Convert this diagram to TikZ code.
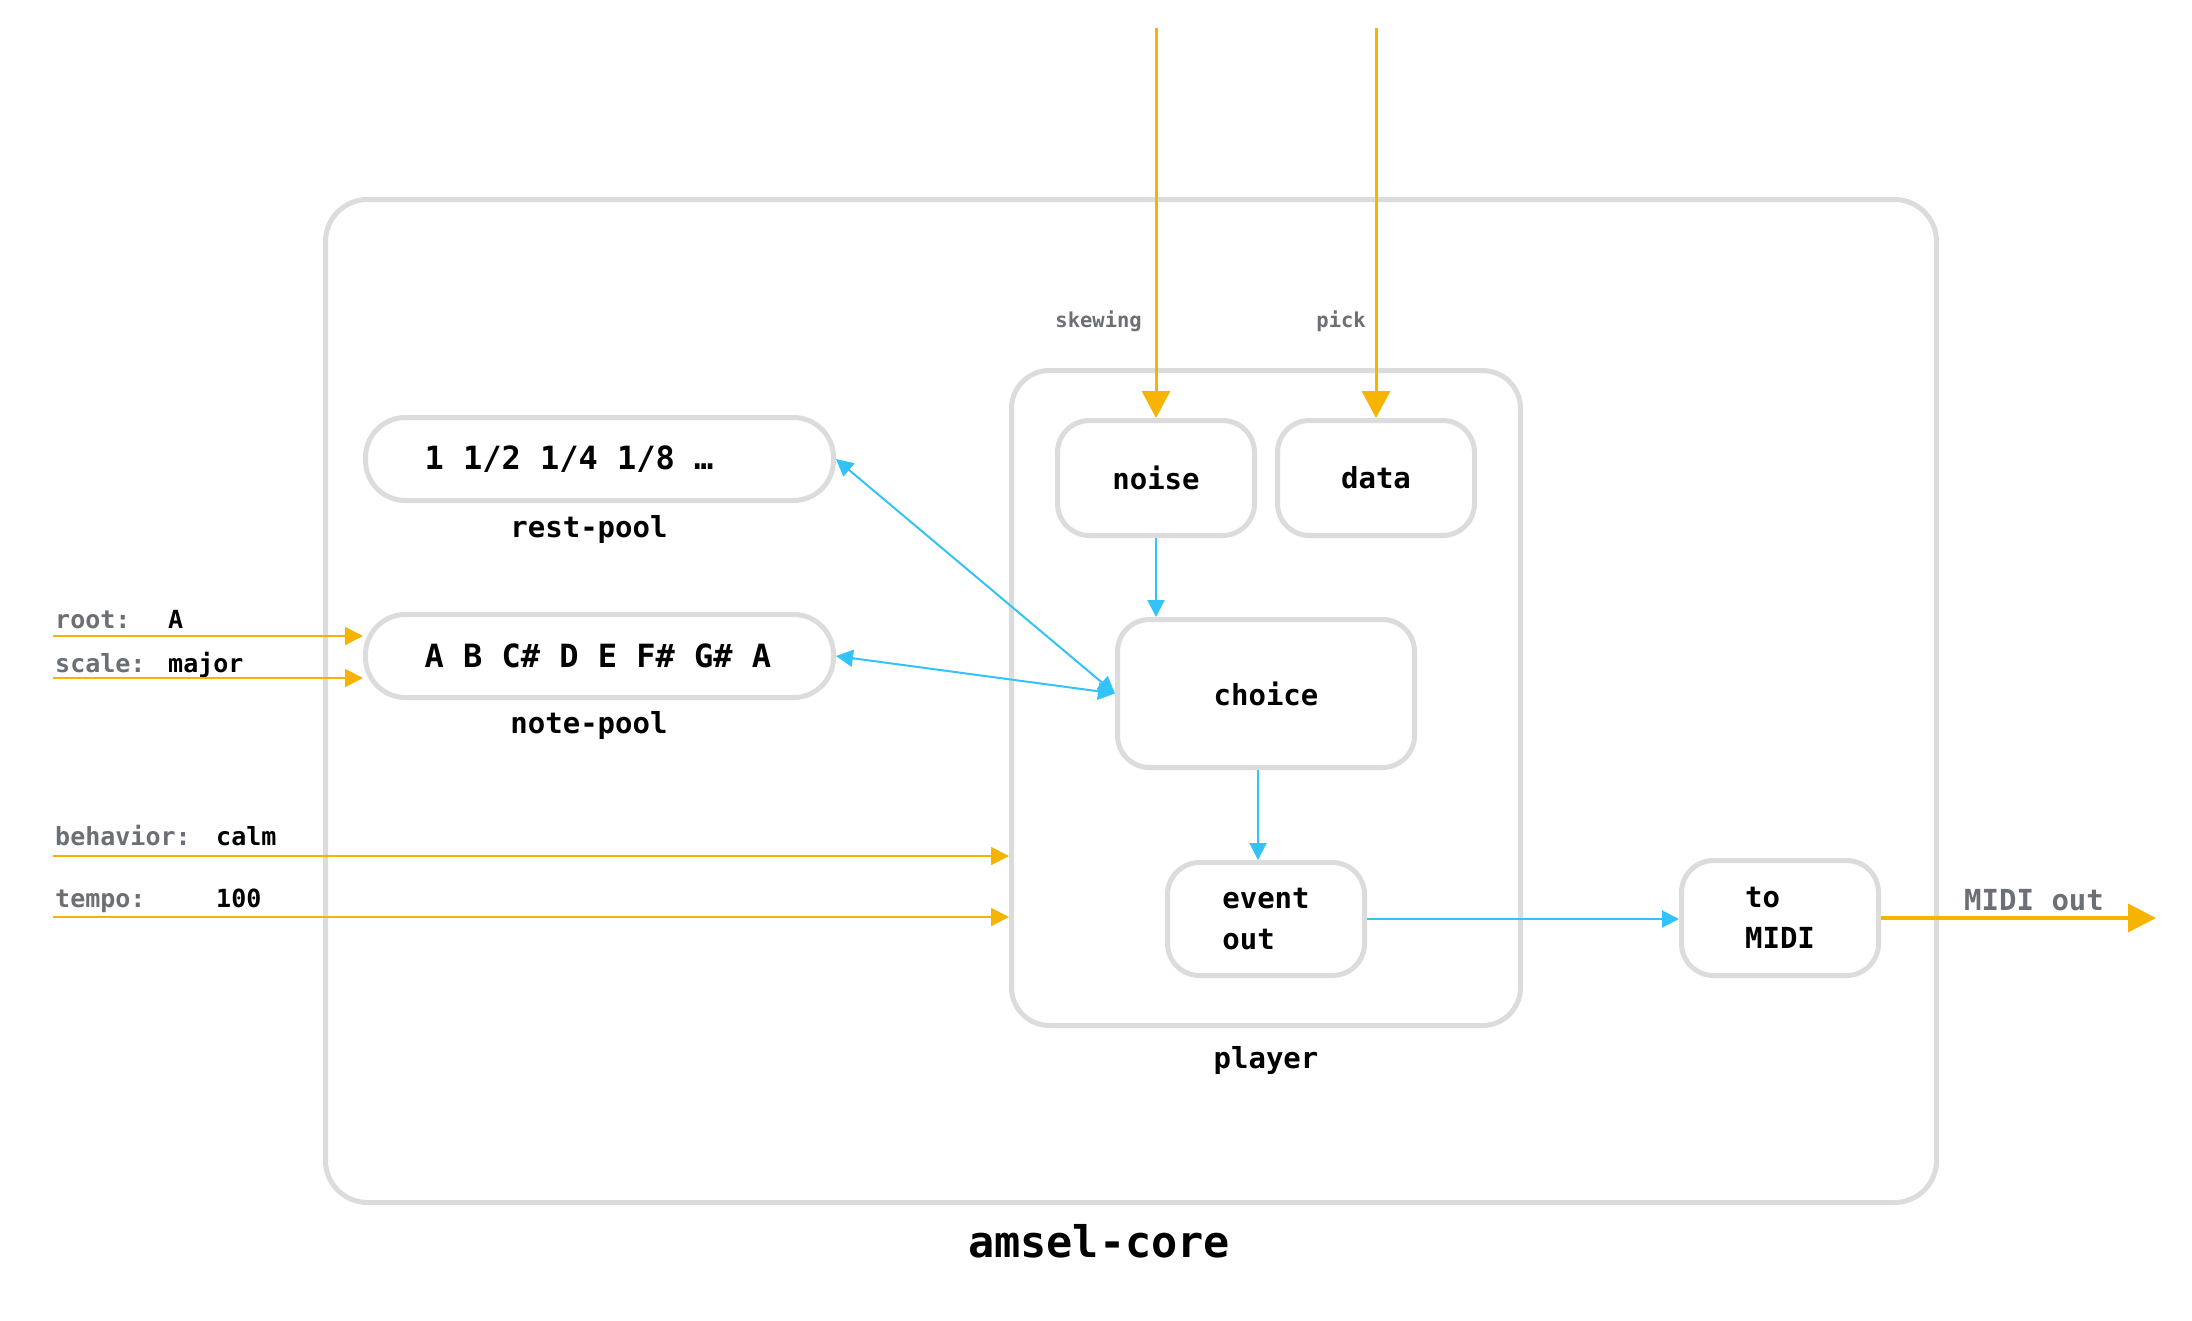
\documentclass[tikz,border=0pt]{standalone}
\usepackage{fontspec}
\setmonofont{DejaVu Sans Mono}
\usetikzlibrary{arrows.meta}
\definecolor{ambr}{HTML}{F6B300}
\definecolor{sky}{HTML}{33C3FA}
\definecolor{boxgray}{HTML}{DCDCDC}
\definecolor{lblgray}{HTML}{6B6F76}
\newcommand\msp{\hphantom{0}}
\tikzset{
  panel/.style={draw=boxgray, line width=5pt, rounded corners=42pt, inner sep=0pt},
  box/.style={draw=boxgray, line width=5pt, fill=white, rounded corners=32pt, inner sep=0pt,
    font=\ttfamily\bfseries\fontsize{29}{41}\selectfont},
  pool/.style={box, rounded corners=40pt, text width=350pt, align=left,
    font=\ttfamily\bfseries\fontsize{32}{38}\selectfont},
  lbl/.style={inner sep=0pt, anchor=base, font=\ttfamily\bfseries\fontsize{29}{34}\selectfont},
  inkey/.style={inner sep=0pt, anchor=base west, text=lblgray, font=\ttfamily\bfseries\fontsize{25}{30}\selectfont},
  inval/.style={inner sep=0pt, anchor=base west, font=\ttfamily\bfseries\fontsize{25}{30}\selectfont},
  toplbl/.style={inner sep=0pt, anchor=base east, text=lblgray, font=\ttfamily\bfseries\fontsize{20.5}{25}\selectfont},
  oarrow/.style={draw=ambr, line width=2pt, -{Triangle[length=18pt,width=18pt]}},
  othick/.style={draw=ambr, line width=3pt, -{Triangle[length=27pt,width=28pt]}},
  othicker/.style={draw=ambr, line width=3.5pt, -{Triangle[length=28pt,width=28pt]}},
  barrow/.style={draw=sky, line width=2pt, -{Triangle[length=17pt,width=17pt]}},
  bdouble/.style={draw=sky, line width=2pt, {Triangle[length=17pt,width=17pt]}-{Triangle[length=17pt,width=17pt]}}
}
\begin{document}
\begin{tikzpicture}[x=1pt,y=-1pt]
\useasboundingbox (0,0) rectangle (2192,1320);
\fill[white] (0,0) rectangle (2192,1320);

% containers
\node[panel, minimum width=1611pt, minimum height=1003pt] (core) at (1131,701) {};
\node[panel, rounded corners=38pt, minimum width=509pt, minimum height=655pt] (player) at (1266,698) {};

% boxes
\node[box, minimum width=197pt, minimum height=115pt] (noise) at (1156,478) {noise};
\node[box, minimum width=197pt, minimum height=115pt] (data) at (1376,478) {data};
\node[box, minimum width=297pt, minimum height=148pt] (choice) at (1266,693.5) {choice};
\node[box, minimum width=197pt, minimum height=113pt, align=left] (event) at (1266,919) {event\\out};
\node[box, minimum width=197pt, minimum height=115pt, align=left] (tomidi) at (1780,918) {to\\MIDI};
\node[pool, minimum width=468pt, minimum height=83pt] (restpool) at (599.5,459) {1\msp1/2\msp1/4\msp1/8\msp…};
\node[pool, minimum width=468pt, minimum height=83pt] (notepool) at (599.5,656) {A\msp B\msp C\#\msp D\msp E\msp F\#\msp G\#\msp A};

% labels
\node[lbl] (restlbl) at (589,537) {rest-pool};
\node[lbl] (notelbl) at (589,733) {note-pool};
\node[lbl] (playerlbl) at (1266,1068) {player};
\node[lbl, font=\ttfamily\bfseries\fontsize{43.5}{50}\selectfont] (corelbl) at (1099,1257) {amsel-core};
\node[toplbl] (skewlbl) at (1142,327) {skewing};
\node[toplbl] (picklbl) at (1366,327) {pick};
\node[inkey, font=\ttfamily\bfseries\fontsize{29}{34}\selectfont] (midilbl) at (1964,910) {MIDI out};

\node[inkey] (rootk) at (55,628) {root:};
\node[inval] (rootv) at (168,628) {A};
\node[inkey] (scalek) at (55,672) {scale:};
\node[inval] (scalev) at (168,672) {major};
\node[inkey] (behk) at (55,845) {behavior:};
\node[inval] (behv) at (216,845) {calm};
\node[inkey] (tempok) at (55,907) {tempo:};
\node[inval] (tempov) at (216,907) {100};

% top inputs
\coordinate (skewtop) at (1156,28);
\coordinate (picktop) at (1376,28);
\draw[othick] (skewtop) -- (noise.north);
\draw[othick] (picktop) -- (data.north);

% internal flow
\draw[barrow] (noise.south) -- (noise.south |- choice.north);
\draw[barrow] ([xshift=-8pt]choice.south) -- ([xshift=-8pt]event.north);
\draw[bdouble] (restpool.east) -- (choice.west);
\draw[bdouble] (notepool.east) -- (choice.west);
\draw[barrow] (event.east) -- (event.east -| tomidi.west);

% output
\coordinate (midiend) at (2156,918);
\draw[othicker] (tomidi.east) -- (midiend);

% left inputs
\coordinate (rootS) at (53,636);
\coordinate (scaleS) at (53,678);
\coordinate (behS) at (53,856);
\coordinate (tempoS) at (53,917);
\draw[oarrow] (rootS) -- (rootS -| notepool.west);
\draw[oarrow] (scaleS) -- (scaleS -| notepool.west);
\draw[oarrow] (behS) -- (behS -| player.west);
\draw[oarrow] (tempoS) -- (tempoS -| player.west);
\end{tikzpicture}
\end{document}
